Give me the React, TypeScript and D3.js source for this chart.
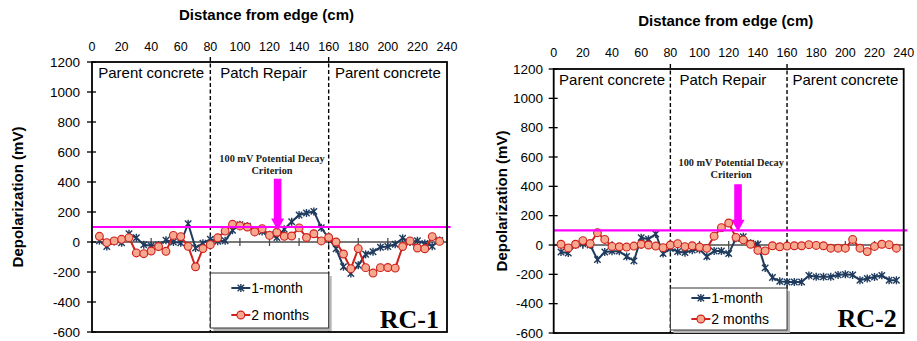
import React from 'react';
import * as d3 from 'd3';

// distance of each reading from the slab edge (cm)
const distanceCm = [
  5, 10, 15, 20, 25, 30, 35, 40, 45, 50, 55, 60, 65, 70, 75, 80, 85, 90, 95, 100,
  105, 110, 115, 120, 125, 130, 135, 140, 145, 150, 155, 160, 165, 170, 175, 180,
  185, 190, 195, 200, 205, 210, 215, 220, 225, 230, 235,
];

// depolarization (mV), RC-1
const rc1OneMonth = [
  8, -30, 5, -5, 55, 28, -18, -25, -20, 12, 0, -5, 122, -40, -8, 18, 5, 8, 78, 115,
  105, 80, 70, 48, 30, 85, 135, 180, 193, 204, 95, 25, -45, -165, -210, -155,
  -82, -65, -35, -30, -15, 25, 0, 8, -10, -28, 10,
];
const rc1TwoMonths = [
  38, -4, 7, 18, 29, -73, -78, -60, -30, -62, 44, 36, -29, -165, -44, -18, 28, 73, 118, 107,
  100, 67, 89, 44, 65, 38, 40, 94, 30, 55, 7, 30, 0, -80, -178, -44,
  -171, -207, -171, -170, -174, -30, 7, -40, -45, 36, 4,
];

// depolarization (mV), RC-2
const rc2OneMonth = [
  -48, -55, 2, 8, 0, -100, -48, -42, -42, -78, -108, 50, 40, 75, -58, -25, -45, -52, -35, -30,
  -78, -41, -41, -58, 46, 57, 12, 5, -156, -222, -248, -252, -252, -252, -208, -217,
  -217, -217, -204, -200, -204, -240, -228, -218, -207, -240, -240,
];
const rc2TwoMonths = [
  5, -20, 5, 30, 10, 84, 38, -10, -12, -14, -7, 5, 0, -7, -18, 0, 9, -11, -5, -14,
  -23, 60, 118, 150, 52, 35, 5, -36, -40, -5, -12, -7, -5, -5, 2, -3,
  -5, -22, -22, -22, 38, -22, -45, -10, 5, 2, -22,
];

const xTicks = [0, 20, 40, 60, 80, 100, 120, 140, 160, 180, 200, 220, 240];
const yTicks = [-600, -400, -200, 0, 200, 400, 600, 800, 1000, 1200];
const zoneEdges = [80, 160];
const zoneLabels = [
  { text: 'Parent concrete', at: 40 },
  { text: 'Patch Repair', at: 116 },
  { text: 'Parent concrete', at: 200 },
];
const criterionMv = 100;

const SANS = '"Liberation Sans", Arial, sans-serif';
const SERIF = '"Liberation Serif", "Times New Roman", serif';
const NAVY = '#1f3b5e';
const RED = '#d0211c';
const CIRCLE_FILL = '#f6a98f';
const MAGENTA = '#ff00ff';

type PanelProps = {
  left: number; right: number; top: number; bottom: number;
  titleY: number; tickLabelY: number; yLabelRight: number; yTitleX: number;
  legendTop: number; legendBottom: number; legendRows: number[];
  name: string; nameDx: number; nameDy: number;
  arrowAt: number; arrowFrom: number; arrowTo: number;
  oneMonth: number[]; twoMonths: number[];
};

function starPath(s: number) {
  return `M${-s},${-s}L${s},${s}M${-s},${s}L${s},${-s}M0,${-s - 0.8}L0,${s + 0.8}`;
}

function Panel(p: PanelProps) {
  const x = d3.scaleLinear().domain([0, 240]).range([p.left, p.right]);
  const y = d3.scaleLinear().domain([-600, 1200]).range([p.bottom, p.top]);
  const line = d3.line<number>().x((_, i) => x(distanceCm[i])).y(d => y(d));

  const y0 = y(0);
  const ax = x(p.arrowAt);
  const shaftW = 3.8;
  const headW = 6.5;
  const headL = 12;
  const arrowTop = y(p.arrowFrom);
  const arrowTip = y(p.arrowTo);
  const arrow = `M${ax - shaftW},${arrowTop}L${ax + shaftW},${arrowTop}L${ax + shaftW},${arrowTip - headL}` +
    `L${ax + headW},${arrowTip - headL}L${ax},${arrowTip}L${ax - headW},${arrowTip - headL}` +
    `L${ax - shaftW},${arrowTip - headL}Z`;

  const lgLeft = x(zoneEdges[0]);
  const lgRight = x(zoneEdges[1]);
  const lgSample = lgLeft + 21;

  return (
    <g>
      {/* axis title */}
      <text x={(p.left + p.right) / 2 - 3} y={p.titleY} textAnchor="middle"
        fontFamily={SANS} fontWeight="bold" fontSize={15}>Distance from edge (cm)</text>

      {/* top tick labels */}
      {xTicks.map(t => (
        <text key={t} x={x(t)} y={p.tickLabelY} textAnchor="middle" fontFamily={SANS} fontSize={12.5}>{t}</text>
      ))}

      {/* left tick labels */}
      {yTicks.map(t => (
        <text key={t} x={p.yLabelRight} y={y(t) + 4.8} textAnchor="end" fontFamily={SANS} fontSize={13.5}>{t}</text>
      ))}
      <text transform={`translate(${p.yTitleX},${(p.top + p.bottom) / 2}) rotate(-90)`} textAnchor="middle"
        dy="0.35em" fontFamily={SANS} fontWeight="bold" fontSize={15}>Depolarization (mV)</text>

      {/* zero line with cross ticks */}
      <line x1={p.left} x2={p.right} y1={y0} y2={y0} stroke="#4d4d4d" strokeWidth={1.5} />
      {xTicks.slice(1, -1).map(t => (
        <line key={t} x1={x(t)} x2={x(t)} y1={y0 - 4} y2={y0 + 4} stroke="#4d4d4d" strokeWidth={1.3} />
      ))}

      {/* left axis ticks */}
      {yTicks.map(t => (
        <line key={t} x1={p.left - 5} x2={p.left + 4} y1={y(t)} y2={y(t)} stroke="#000" strokeWidth={1.3} />
      ))}

      {/* zone dividers */}
      {zoneEdges.map(z => (
        <line key={z} x1={x(z)} x2={x(z)} y1={p.top - 5} y2={p.bottom} stroke="#000" strokeWidth={1.4}
          strokeDasharray="4,2.5" />
      ))}
      {zoneLabels.map((z, i) => (
        <text key={i} x={x(z.at)} y={p.top + 16} textAnchor="middle" fontFamily={SANS} fontSize={15}>{z.text}</text>
      ))}

      {/* series */}
      <path d={line(p.oneMonth) || ''} fill="none" stroke={NAVY} strokeWidth={2} />
      {p.oneMonth.map((v, i) => (
        <path key={i} d={starPath(3.2)} transform={`translate(${x(distanceCm[i])},${y(v)})`}
          stroke={NAVY} strokeWidth={1.4} fill="none" />
      ))}
      <path d={line(p.twoMonths) || ''} fill="none" stroke={RED} strokeWidth={2} />
      {p.twoMonths.map((v, i) => (
        <circle key={i} cx={x(distanceCm[i])} cy={y(v)} r={3.9} fill={CIRCLE_FILL} stroke={RED} strokeWidth={1.1} />
      ))}

      {/* 100 mV criterion */}
      <line x1={x(0)} x2={x(242.5)} y1={y(criterionMv)} y2={y(criterionMv)} stroke={MAGENTA} strokeWidth={2.2} />
      <path d={arrow} fill={MAGENTA} />
      <text x={x(121.7)} y={y(560) + 3.5} textAnchor="middle" fontFamily={SERIF} fontWeight="bold" fontSize={10.3}
        fill="#222">100 mV Potential Decay</text>
      <text x={x(121.7)} y={y(560) + 15.5} textAnchor="middle" fontFamily={SERIF} fontWeight="bold" fontSize={10.3}
        fill="#222">Criterion</text>

      {/* plot border */}
      <rect x={p.left} y={p.top} width={p.right - p.left} height={p.bottom - p.top} fill="none"
        stroke="#000" strokeWidth={1.8} />

      {/* legend */}
      <rect x={lgLeft + 3} y={p.legendTop + 3} width={lgRight - lgLeft} height={p.legendBottom - p.legendTop}
        fill="#b5b5b5" />
      <rect x={lgLeft} y={p.legendTop} width={lgRight - lgLeft} height={p.legendBottom - p.legendTop}
        fill="#fff" stroke="#333" strokeWidth={1} />
      <line x1={lgSample} x2={lgSample + 19} y1={p.legendRows[0]} y2={p.legendRows[0]} stroke={NAVY} strokeWidth={2} />
      <path d={starPath(3.2)} transform={`translate(${lgSample + 9.5},${p.legendRows[0]})`} stroke={NAVY}
        strokeWidth={1.4} fill="none" />
      <text x={lgSample + 20} y={p.legendRows[0] + 5} fontFamily={SANS} fontSize={14}>1-month</text>
      <line x1={lgSample} x2={lgSample + 19} y1={p.legendRows[1]} y2={p.legendRows[1]} stroke={RED} strokeWidth={2} />
      <circle cx={lgSample + 9.5} cy={p.legendRows[1]} r={3.9} fill={CIRCLE_FILL} stroke={RED} strokeWidth={1.1} />
      <text x={lgSample + 20} y={p.legendRows[1] + 5} fontFamily={SANS} fontSize={14}>2 months</text>

      {/* specimen label */}
      <text x={p.right - p.nameDx} y={p.bottom - p.nameDy} textAnchor="end" fontFamily={SERIF} fontWeight="bold"
        fontSize={26}>{p.name}</text>
    </g>
  );
}

export default function App() {
  return (
    <svg width={917} height={341} viewBox="0 0 917 341"
      style={{ position: 'absolute', left: 0, top: 0, background: '#fff' }}>
      <rect width={917} height={341} fill="#fff" />
      <Panel left={92} right={447} top={62} bottom={332} titleY={19.5} tickLabelY={51} yLabelRight={80}
        yTitleX={17.5} legendTop={273} legendBottom={328} legendRows={[288, 315]}
        name="RC-1" nameDx={8} nameDy={4.5} arrowAt={125.5} arrowFrom={422} arrowTo={77}
        oneMonth={rc1OneMonth} twoMonths={rc1TwoMonths} />
      <Panel left={553.7} right={903.7} top={69} bottom={333} titleY={25.5} tickLabelY={56.5} yLabelRight={543}
        yTitleX={502} legendTop={288} legendBottom={330} legendRows={[298, 319]}
        name="RC-2" nameDx={7} nameDy={6} arrowAt={126.4} arrowFrom={414} arrowTo={91}
        oneMonth={rc2OneMonth} twoMonths={rc2TwoMonths} />
    </svg>
  );
}
